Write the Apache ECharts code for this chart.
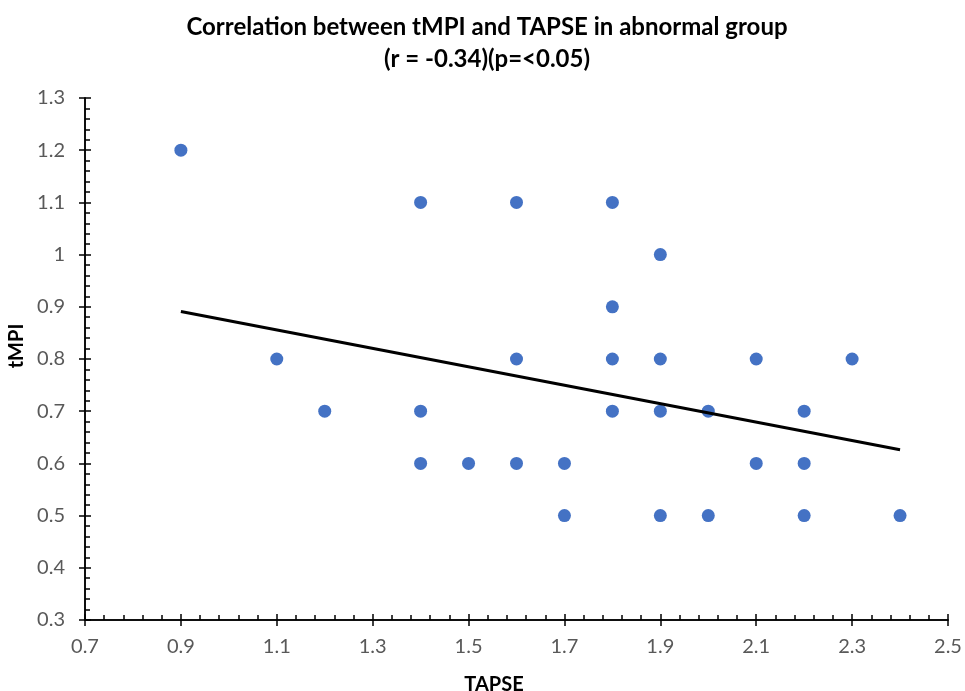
<!DOCTYPE html>
<html>
<head>
<meta charset="utf-8">
<script src="https://cdn.jsdelivr.net/npm/echarts@6/dist/echarts.min.js"></script>
<style>html,body{margin:0;padding:0;background:#fff;}#c{width:965px;height:691px;}</style>
</head>
<body>
<div id="c"></div>
<script>
const tapse = [0.9,1.4,1.6,1.8,1.9,1.8,1.1,1.6,1.8,1.9,2.1,2.3,1.2,1.4,1.8,1.9,2.0,2.2,1.4,1.5,1.6,1.7,2.1,2.2,1.7,1.9,2.0,2.2,2.4];
const tmpi  = [1.2,1.1,1.1,1.1,1.0,0.9,0.8,0.8,0.8,0.8,0.8,0.8,0.7,0.7,0.7,0.7,0.7,0.7,0.6,0.6,0.6,0.6,0.6,0.6,0.5,0.5,0.5,0.5,0.5];
const trendX = [0.9, 2.4];
const trendY = [0.891, 0.626];
const titleLines = ['Correlation between tMPI and TAPSE in abnormal group', '(r = -0.34)(p=<0.05)'];
const xName = 'TAPSE';
const yName = 'tMPI';

const FONT = 'Lato';
const chart = echarts.init(document.getElementById('c'), null, {renderer: 'canvas'});
const grid = {left: 85, right: 17, top: 98, bottom: 71};
const fmt = v => String(Math.round(v * 10) / 10);
const baseAxis = {
  axisLine: {show: true, lineStyle: {color: '#000', width: 1.5}},
  splitLine: {show: false},
};
chart.setOption({
  animation: false,
  backgroundColor: '#fff',
  title: [
    {text: titleLines[0], left: 482, top: 10, textAlign: 'center',
     textStyle: {fontFamily: FONT, fontSize: 24, fontWeight: 'bold', color: '#000'}},
    {text: titleLines[1], left: 482, top: 42, textAlign: 'center',
     textStyle: {fontFamily: FONT, fontSize: 24, fontWeight: 'bold', color: '#000'}},
    {text: xName, left: 489, top: 670, textAlign: 'center',
     textStyle: {fontFamily: FONT, fontSize: 20, fontWeight: 'bold', color: '#000'}}
  ],
  graphic: [
    {type: 'text', x: 17, y: 346, rotation: Math.PI / 2,
     style: {text: yName, fontFamily: FONT, fontSize: 20, fontWeight: 'bold', fill: '#000',
             align: 'center', verticalAlign: 'middle'}}
  ],
  grid: grid,
  xAxis: [
    Object.assign({}, baseAxis, {type: 'value', min: 0.7, max: 2.5, interval: 0.2,
      axisTick: {show: true, inside: false, length: 6, lineStyle: {color: '#000', width: 1.5}},
      axisLabel: {show: true, formatter: fmt, color: '#595959', fontFamily: FONT, fontSize: 20, margin: 17}}),
    Object.assign({}, baseAxis, {type: 'value', min: 0.7, max: 2.5, interval: 0.2, position: 'bottom',
      axisTick: {show: true, inside: true, length: 6, lineStyle: {color: '#000', width: 1.5}},
      minorTick: {show: true, splitNumber: 5, length: 5, lineStyle: {color: '#000', width: 1.5}},
      axisLabel: {show: false}})
  ],
  yAxis: [
    Object.assign({}, baseAxis, {type: 'value', min: 0.3, max: 1.3, interval: 0.1,
      axisTick: {show: true, inside: false, length: 6, lineStyle: {color: '#000', width: 1.5}},
      axisLabel: {show: true, formatter: fmt, color: '#595959', fontFamily: FONT, fontSize: 20, margin: 20}}),
    Object.assign({}, baseAxis, {type: 'value', min: 0.3, max: 1.3, interval: 0.1, position: 'left',
      axisTick: {show: true, inside: true, length: 6, lineStyle: {color: '#000', width: 1.5}},
      minorTick: {show: true, splitNumber: 5, length: 5, lineStyle: {color: '#000', width: 1.5}},
      axisLabel: {show: false}})
  ],
  series: [
    {type: 'scatter', xAxisIndex: 0, yAxisIndex: 0, symbolSize: 13,
     itemStyle: {color: '#4472C4', opacity: 1},
     data: tapse.map((x, i) => [x, tmpi[i]])},
    {type: 'line', xAxisIndex: 0, yAxisIndex: 0, symbol: 'none', z: 3,
     lineStyle: {color: '#000', width: 3},
     data: trendX.map((x, i) => [x, trendY[i]])}
  ]
});
</script>
</body>
</html>
